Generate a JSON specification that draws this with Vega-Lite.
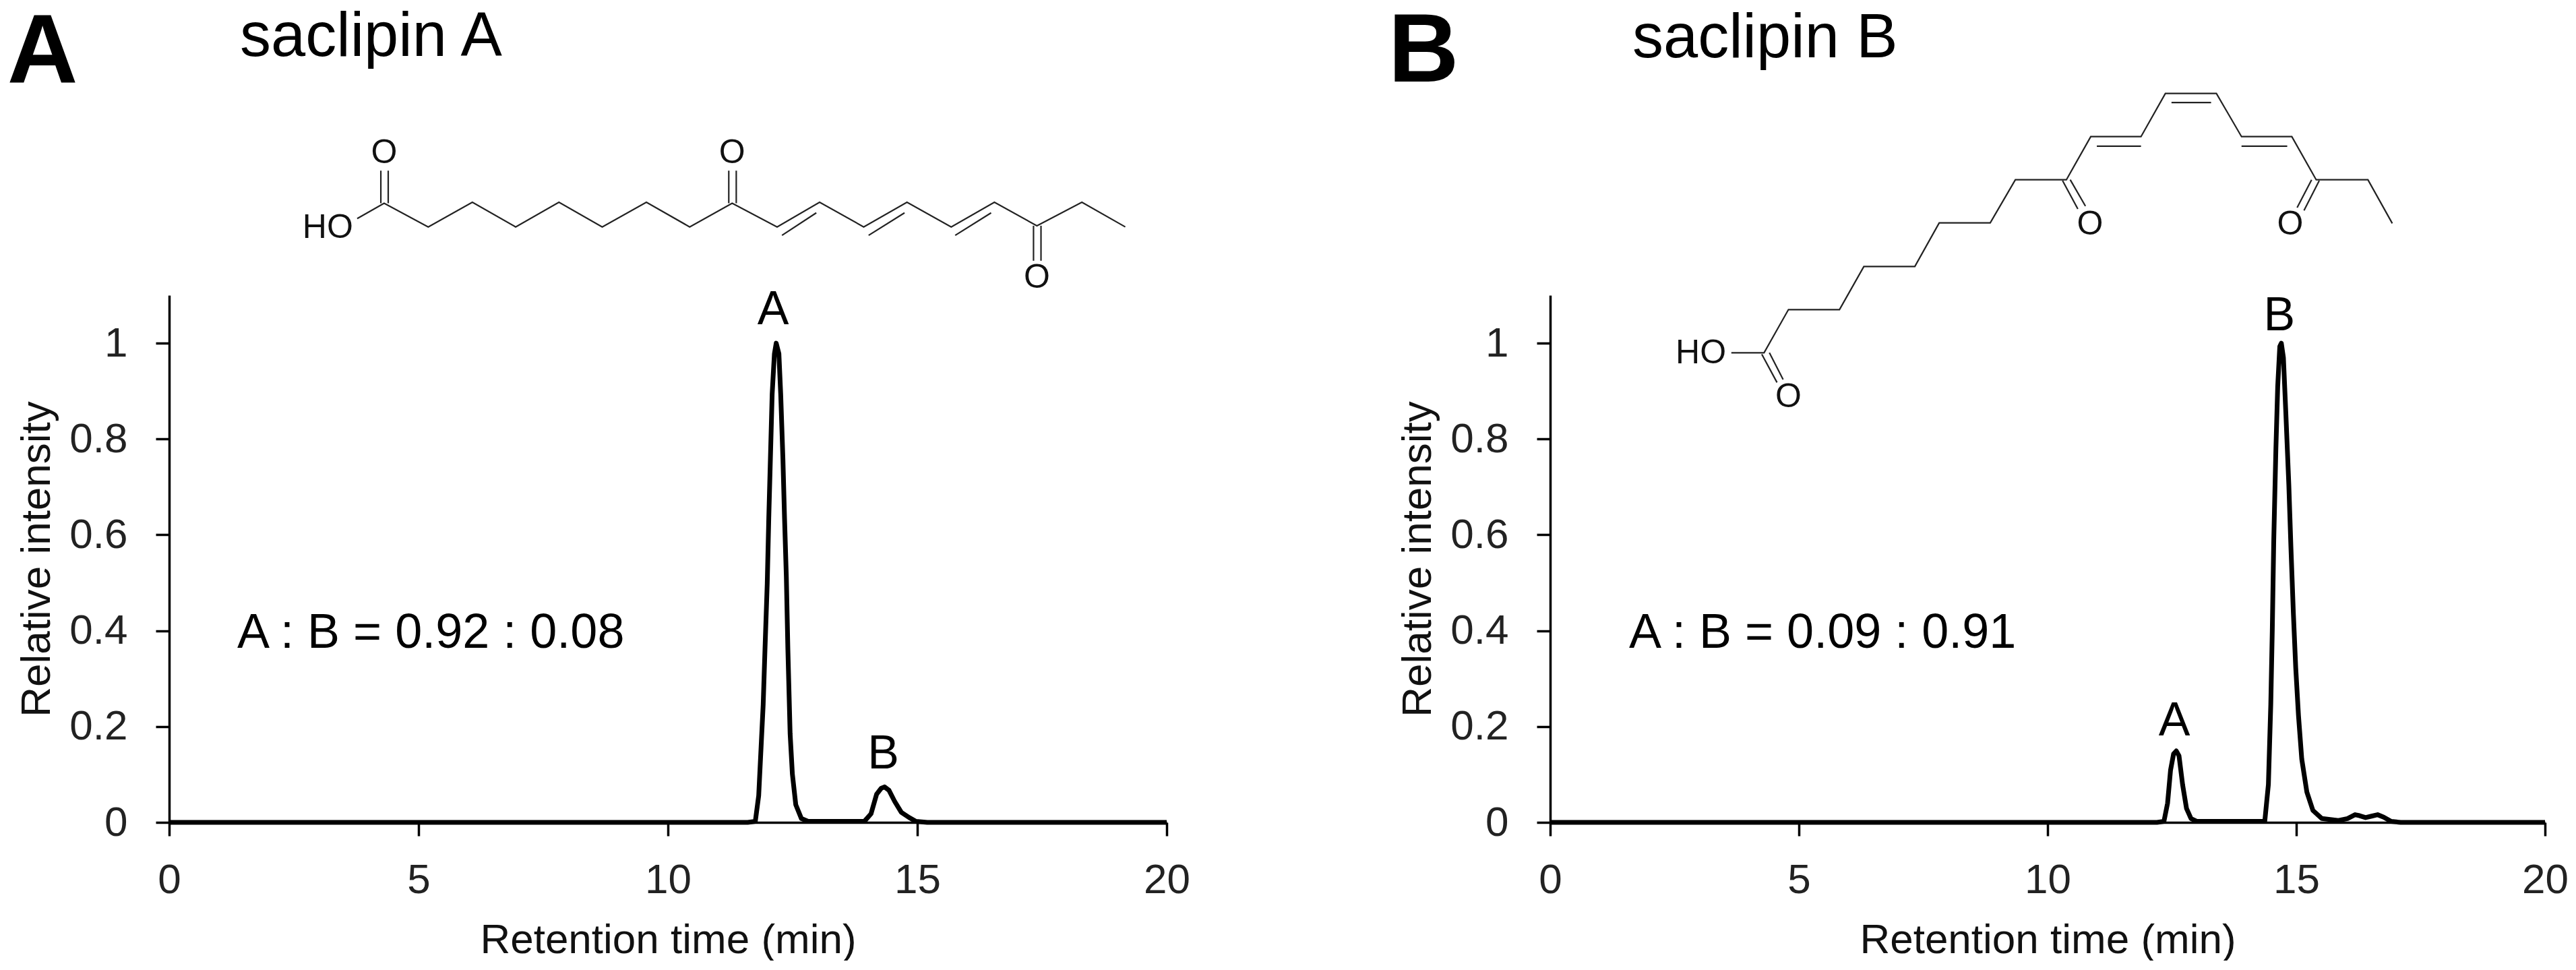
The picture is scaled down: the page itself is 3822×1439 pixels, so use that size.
{"$schema":"https://vega.github.io/schema/vega-lite/v6.json","background":"white","padding":{"left":10,"top":4,"right":0,"bottom":0},"bounds":"flush","spacing":569,"config":{"view":{"stroke":null},"font":"Liberation Sans","text":{"baseline":"alphabetic"},"axis":{"grid":false,"domainColor":"#000","domainWidth":3.5,"tickColor":"#000","tickWidth":3.5,"tickSize":20,"labelFont":"Liberation Sans","titleFont":"Liberation Sans","labelFontSize":62,"titleFontSize":62,"titleFontWeight":"normal","labelColor":"#222","titleColor":"#111","labelFlush":false,"labelOverlap":false}},
"hconcat":[
{"width":1480,"height":782,"encoding":{"x":{"field":"t","type":"quantitative","scale":{"domain":[0,20],"nice":false,"zero":false},"axis":{"values":[0,5,10,15,20],"title":"Retention time (min)","labelPadding":35,"titlePadding":28}},"y":{"field":"v","type":"quantitative","scale":{"domain":[0,1.1],"nice":false},"axis":{"values":[0,0.2,0.4,0.6,0.8,1],"format":"~r","title":"Relative intensity","labelPadding":42,"titlePadding":16}}},
"layer":[
{"data":{"values":[{"t":0,"v":0},{"t":11.6,"v":0},{"t":11.752,"v":0.002},{"t":11.82,"v":0.056},{"t":11.874,"v":0.17},{"t":11.91,"v":0.246},{"t":11.946,"v":0.361},{"t":11.991,"v":0.498},{"t":12.022,"v":0.635},{"t":12.054,"v":0.757},{"t":12.09,"v":0.894},{"t":12.135,"v":0.978},{"t":12.171,"v":1.0},{"t":12.225,"v":0.978},{"t":12.261,"v":0.894},{"t":12.306,"v":0.757},{"t":12.338,"v":0.635},{"t":12.374,"v":0.513},{"t":12.405,"v":0.361},{"t":12.45,"v":0.185},{"t":12.495,"v":0.101},{"t":12.563,"v":0.037},{"t":12.676,"v":0.008},{"t":12.811,"v":0.002},{"t":13.937,"v":0.002},{"t":14.072,"v":0.018},{"t":14.185,"v":0.059},{"t":14.275,"v":0.071},{"t":14.342,"v":0.074},{"t":14.432,"v":0.067},{"t":14.545,"v":0.044},{"t":14.68,"v":0.021},{"t":14.838,"v":0.01},{"t":14.973,"v":0.002},{"t":15.2,"v":0},{"t":20,"v":0}]},"mark":{"type":"line","color":"#000","strokeWidth":7,"strokeJoin":"round"}},
{"data":{"values":[{"s":"chain","t":3.77,"v":1.26},{"s":"chain","t":4.31,"v":1.292},{"s":"chain","t":5.194,"v":1.2426},{"s":"chain","t":6.079,"v":1.294},{"s":"chain","t":6.947,"v":1.2426},{"s":"chain","t":7.815,"v":1.294},{"s":"chain","t":8.683,"v":1.2426},{"s":"chain","t":9.568,"v":1.294},{"s":"chain","t":10.436,"v":1.2426},{"s":"chain","t":11.288,"v":1.292},{"s":"chain","t":12.189,"v":1.2426},{"s":"chain","t":13.041,"v":1.294},{"s":"chain","t":13.925,"v":1.2426},{"s":"chain","t":14.793,"v":1.294},{"s":"chain","t":15.68,"v":1.2426},{"s":"chain","t":16.546,"v":1.294},{"s":"chain","t":17.398,"v":1.245},{"s":"chain","t":18.3,"v":1.294},{"s":"chain","t":19.17,"v":1.2426},
{"s":"d1","t":12.287,"v":1.225},{"s":"d1","t":12.975,"v":1.272},{"s":"d2","t":14.024,"v":1.225},{"s":"d2","t":14.744,"v":1.272},{"s":"d3","t":15.76,"v":1.225},{"s":"d3","t":16.48,"v":1.272},
{"s":"o1a","t":4.244,"v":1.292},{"s":"o1a","t":4.244,"v":1.36},{"s":"o1b","t":4.392,"v":1.292},{"s":"o1b","t":4.392,"v":1.36},
{"s":"o2a","t":11.22,"v":1.292},{"s":"o2a","t":11.22,"v":1.36},{"s":"o2b","t":11.37,"v":1.292},{"s":"o2b","t":11.37,"v":1.36},
{"s":"o3a","t":17.33,"v":1.245},{"s":"o3a","t":17.33,"v":1.172},{"s":"o3b","t":17.48,"v":1.245},{"s":"o3b","t":17.48,"v":1.172}]},"mark":{"type":"line","color":"#222","strokeWidth":2.2,"strokeJoin":"miter"},"encoding":{"detail":{"field":"s"}}},
{"data":{"values":[{"t":4.31,"v":1.397,"label":"O"},{"t":11.288,"v":1.397,"label":"O"},{"t":17.398,"v":1.137,"label":"O"},{"t":3.18,"v":1.24,"label":"HO"}]},"mark":{"type":"text","fontSize":50,"color":"#111","baseline":"middle","align":"center"},"encoding":{"text":{"field":"label"}}},
{"data":{"values":[{"t":12.108,"v":1.039,"label":"A"},{"t":14.32,"v":0.113,"label":"B"}]},"mark":{"type":"text","fontSize":70,"color":"#000","align":"center","baseline":"alphabetic"},"encoding":{"text":{"field":"label"}}},
{"data":{"values":[{"t":1.365,"v":0.364,"label":"A : B = 0.92 : 0.08"}]},"mark":{"type":"text","fontSize":72,"color":"#000","align":"left","baseline":"alphabetic"},"encoding":{"text":{"field":"label"}}},
{"data":{"values":[{"t":1.42,"v":1.6,"label":"saclipin A"}]},"mark":{"type":"text","fontSize":92,"color":"#000","align":"left","baseline":"alphabetic"},"encoding":{"text":{"field":"label"}}},
{"data":{"values":[{"t":-2.54,"v":1.545,"label":"A"}]},"mark":{"type":"text","fontSize":145,"fontWeight":"bold","color":"#000","align":"center","baseline":"alphabetic"},"encoding":{"text":{"field":"label"}}}
]},
{"width":1476,"height":782,"encoding":{"x":{"field":"t","type":"quantitative","scale":{"domain":[0,20],"nice":false,"zero":false},"axis":{"values":[0,5,10,15,20],"title":"Retention time (min)","labelPadding":35,"titlePadding":28}},"y":{"field":"v","type":"quantitative","scale":{"domain":[0,1.1],"nice":false},"axis":{"values":[0,0.2,0.4,0.6,0.8,1],"format":"~r","title":"Relative intensity","labelPadding":42,"titlePadding":16}}},
"layer":[
{"data":{"values":[{"t":0,"v":0},{"t":12.2,"v":0},{"t":12.339,"v":0.002},{"t":12.412,"v":0.04},{"t":12.472,"v":0.109},{"t":12.533,"v":0.143},{"t":12.587,"v":0.149},{"t":12.642,"v":0.139},{"t":12.714,"v":0.079},{"t":12.793,"v":0.029},{"t":12.884,"v":0.008},{"t":13.005,"v":0.002},{"t":14.366,"v":0.002},{"t":14.439,"v":0.079},{"t":14.487,"v":0.246},{"t":14.517,"v":0.399},{"t":14.547,"v":0.589},{"t":14.59,"v":0.78},{"t":14.626,"v":0.909},{"t":14.668,"v":0.993},{"t":14.699,"v":1.0},{"t":14.741,"v":0.97},{"t":14.789,"v":0.856},{"t":14.85,"v":0.704},{"t":14.892,"v":0.574},{"t":14.941,"v":0.437},{"t":14.989,"v":0.322},{"t":15.044,"v":0.223},{"t":15.11,"v":0.132},{"t":15.213,"v":0.063},{"t":15.334,"v":0.025},{"t":15.515,"v":0.008},{"t":15.848,"v":0.004},{"t":16.03,"v":0.008},{"t":16.181,"v":0.016},{"t":16.271,"v":0.014},{"t":16.393,"v":0.01},{"t":16.514,"v":0.013},{"t":16.635,"v":0.016},{"t":16.756,"v":0.011},{"t":16.907,"v":0.002},{"t":17.1,"v":0},{"t":20,"v":0}]},"mark":{"type":"line","color":"#000","strokeWidth":7,"strokeJoin":"round"}},
{"data":{"values":[{"s":"chain","t":3.642,"v":0.98},{"s":"chain","t":4.3,"v":0.98},{"s":"chain","t":4.79,"v":1.07},{"s":"chain","t":5.816,"v":1.07},{"s":"chain","t":6.306,"v":1.16},{"s":"chain","t":7.331,"v":1.16},{"s":"chain","t":7.821,"v":1.251},{"s":"chain","t":8.847,"v":1.251},{"s":"chain","t":9.352,"v":1.341},{"s":"chain","t":10.378,"v":1.341},{"s":"chain","t":10.868,"v":1.431},{"s":"chain","t":11.878,"v":1.431},{"s":"chain","t":12.368,"v":1.521},{"s":"chain","t":13.394,"v":1.521},{"s":"chain","t":13.899,"v":1.431},{"s":"chain","t":14.91,"v":1.431},{"s":"chain","t":15.4,"v":1.341},{"s":"chain","t":16.44,"v":1.341},{"s":"chain","t":16.93,"v":1.25},
{"s":"d1","t":10.99,"v":1.411},{"s":"d1","t":11.878,"v":1.411},{"s":"d2","t":12.491,"v":1.502},{"s":"d2","t":13.287,"v":1.502},{"s":"d3","t":13.899,"v":1.411},{"s":"d3","t":14.818,"v":1.411},
{"s":"o1a","t":4.254,"v":0.977},{"s":"o1a","t":4.56,"v":0.918},{"s":"o1b","t":4.407,"v":0.98},{"s":"o1b","t":4.683,"v":0.924},
{"s":"o2a","t":10.301,"v":1.339},{"s":"o2a","t":10.608,"v":1.28},{"s":"o2b","t":10.455,"v":1.341},{"s":"o2b","t":10.761,"v":1.286},
{"s":"o3a","t":15.308,"v":1.341},{"s":"o3a","t":15.017,"v":1.283},{"s":"o3b","t":15.461,"v":1.339},{"s":"o3b","t":15.155,"v":1.277}]},"mark":{"type":"line","color":"#222","strokeWidth":2.2,"strokeJoin":"miter"},"encoding":{"detail":{"field":"s"}}},
{"data":{"values":[{"t":3.029,"v":0.979,"label":"HO"},{"t":4.79,"v":0.888,"label":"O"},{"t":10.853,"v":1.248,"label":"O"},{"t":14.879,"v":1.248,"label":"O"}]},"mark":{"type":"text","fontSize":50,"color":"#111","baseline":"middle","align":"center"},"encoding":{"text":{"field":"label"}}},
{"data":{"values":[{"t":14.66,"v":1.027,"label":"B"},{"t":12.55,"v":0.181,"label":"A"}]},"mark":{"type":"text","fontSize":70,"color":"#000","align":"center","baseline":"alphabetic"},"encoding":{"text":{"field":"label"}}},
{"data":{"values":[{"t":1.585,"v":0.364,"label":"A : B = 0.09 : 0.91"}]},"mark":{"type":"text","fontSize":72,"color":"#000","align":"left","baseline":"alphabetic"},"encoding":{"text":{"field":"label"}}},
{"data":{"values":[{"t":1.653,"v":1.597,"label":"saclipin B"}]},"mark":{"type":"text","fontSize":92,"color":"#000","align":"left","baseline":"alphabetic"},"encoding":{"text":{"field":"label"}}},
{"data":{"values":[{"t":-2.547,"v":1.546,"label":"B"}]},"mark":{"type":"text","fontSize":145,"fontWeight":"bold","color":"#000","align":"center","baseline":"alphabetic"},"encoding":{"text":{"field":"label"}}}
]}
]}
